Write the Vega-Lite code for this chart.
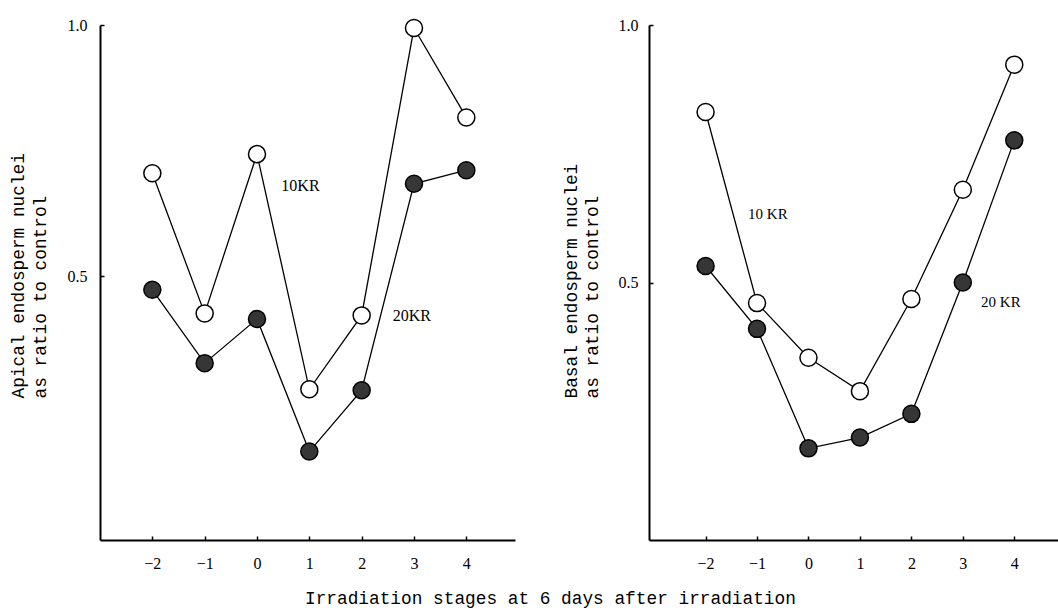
{
  "$schema": "https://vega.github.io/schema/vega-lite/v6.json",
  "background": "white",
  "padding": {"left": 9, "top": 16, "right": 0, "bottom": 0},
  "spacing": 47,
  "config": {
    "view": {"stroke": null},
    "axis": {
      "grid": false,
      "domainColor": "black",
      "domainWidth": 2,
      "tickColor": "black",
      "tickWidth": 1.5,
      "labelFont": "Liberation Serif",
      "labelFontSize": 16,
      "labelColor": "black",
      "titleFont": "Liberation Mono",
      "titleFontSize": 17.8,
      "titleFontWeight": "normal",
      "titleColor": "black"
    }
  },
  "title": {
    "text": "Irradiation stages at 6 days after irradiation",
    "orient": "bottom",
    "anchor": "start",
    "dx": 296,
    "offset": 19,
    "font": "Liberation Mono",
    "fontSize": 17.8,
    "fontWeight": "normal",
    "color": "black"
  },
  "datasets": {
    "apical": [
      {"stage": -2, "dose": "10 KR", "value": 0.705},
      {"stage": -1, "dose": "10 KR", "value": 0.426},
      {"stage": 0, "dose": "10 KR", "value": 0.743},
      {"stage": 1, "dose": "10 KR", "value": 0.275},
      {"stage": 2, "dose": "10 KR", "value": 0.422},
      {"stage": 3, "dose": "10 KR", "value": 0.994},
      {"stage": 4, "dose": "10 KR", "value": 0.816},
      {"stage": -2, "dose": "20 KR", "value": 0.473},
      {"stage": -1, "dose": "20 KR", "value": 0.327},
      {"stage": 0, "dose": "20 KR", "value": 0.415},
      {"stage": 1, "dose": "20 KR", "value": 0.151},
      {"stage": 2, "dose": "20 KR", "value": 0.273},
      {"stage": 3, "dose": "20 KR", "value": 0.684},
      {"stage": 4, "dose": "20 KR", "value": 0.711}
    ],
    "basal": [
      {"stage": -2, "dose": "10 KR", "value": 0.831},
      {"stage": -1, "dose": "10 KR", "value": 0.46},
      {"stage": 0, "dose": "10 KR", "value": 0.354},
      {"stage": 1, "dose": "10 KR", "value": 0.289},
      {"stage": 2, "dose": "10 KR", "value": 0.468},
      {"stage": 3, "dose": "10 KR", "value": 0.68},
      {"stage": 4, "dose": "10 KR", "value": 0.923},
      {"stage": -2, "dose": "20 KR", "value": 0.532},
      {"stage": -1, "dose": "20 KR", "value": 0.41},
      {"stage": 0, "dose": "20 KR", "value": 0.178},
      {"stage": 1, "dose": "20 KR", "value": 0.199},
      {"stage": 2, "dose": "20 KR", "value": 0.245},
      {"stage": 3, "dose": "20 KR", "value": 0.5},
      {"stage": 4, "dose": "20 KR", "value": 0.776}
    ],
    "apicalLabels": [
      {"stage": 0.83, "value": 0.68, "label": "10KR"},
      {"stage": 2.96, "value": 0.421, "label": "20KR"}
    ],
    "basalLabels": [
      {"stage": -0.79, "value": 0.633, "label": "10 KR"},
      {"stage": 3.74, "value": 0.462, "label": "20 KR"}
    ]
  },
  "hconcat": [
    {
      "width": 415,
      "height": 515,
      "layer": [
        {
          "data": {"name": "apical"},
          "mark": {"type": "line", "color": "black", "strokeWidth": 1.3},
          "encoding": {
            "x": {
              "field": "stage", "type": "quantitative",
              "scale": {"domain": [-3, 4.93], "nice": false, "zero": false},
              "axis": {"values": [-2, -1, 0, 1, 2, 3, 4], "format": "d", "title": null, "tickSize": -4, "labelPadding": 19}
            },
            "y": {
              "field": "value", "type": "quantitative",
              "scale": {"domain": [-0.025, 1.0], "nice": false, "zero": false},
              "axis": {
                "values": [0.5, 1.0], "format": ".1f", "tickSize": -4, "labelPadding": 17,
                "title": ["Apical endosperm nuclei", "as ratio to control"],
                "titleAngle": -90, "titleAlign": "left", "titleBaseline": "top",
                "titleX": -91, "titleY": 373, "titleLineHeight": 22
              }
            },
            "detail": {"field": "dose"}
          }
        },
        {
          "data": {"name": "apical"},
          "mark": {"type": "point", "shape": "circle", "filled": true, "size": 290, "stroke": "black", "strokeWidth": 1.5, "opacity": 1},
          "encoding": {
            "x": {"field": "stage", "type": "quantitative"},
            "y": {"field": "value", "type": "quantitative"},
            "fill": {"field": "dose", "type": "nominal", "scale": {"domain": ["10 KR", "20 KR"], "range": ["white", "#363636"]}, "legend": null}
          }
        },
        {
          "data": {"name": "apicalLabels"},
          "mark": {"type": "text", "font": "Liberation Serif", "fontSize": 16, "align": "center", "baseline": "middle", "color": "black"},
          "encoding": {
            "x": {"field": "stage", "type": "quantitative"},
            "y": {"field": "value", "type": "quantitative"},
            "text": {"field": "label"}
          }
        }
      ]
    },
    {
      "width": 409,
      "height": 515,
      "layer": [
        {
          "data": {"name": "basal"},
          "mark": {"type": "line", "color": "black", "strokeWidth": 1.3},
          "encoding": {
            "x": {
              "field": "stage", "type": "quantitative",
              "scale": {"domain": [-3.1, 4.85], "nice": false, "zero": false},
              "axis": {"values": [-2, -1, 0, 1, 2, 3, 4], "format": "d", "title": null, "tickSize": -4, "labelPadding": 19}
            },
            "y": {
              "field": "value", "type": "quantitative",
              "scale": {"domain": [0, 1.0], "nice": false, "zero": false},
              "axis": {
                "values": [0.5, 1.0], "format": ".1f", "tickSize": -4, "labelPadding": 15,
                "title": ["Basal endosperm nuclei", "as ratio to control"],
                "titleAngle": -90, "titleAlign": "left", "titleBaseline": "top",
                "titleX": -87, "titleY": 373, "titleLineHeight": 21
              }
            },
            "detail": {"field": "dose"}
          }
        },
        {
          "data": {"name": "basal"},
          "mark": {"type": "point", "shape": "circle", "filled": true, "size": 290, "stroke": "black", "strokeWidth": 1.5, "opacity": 1},
          "encoding": {
            "x": {"field": "stage", "type": "quantitative"},
            "y": {"field": "value", "type": "quantitative"},
            "fill": {"field": "dose", "type": "nominal", "scale": {"domain": ["10 KR", "20 KR"], "range": ["white", "#363636"]}, "legend": null}
          }
        },
        {
          "data": {"name": "basalLabels"},
          "mark": {"type": "text", "font": "Liberation Serif", "fontSize": 15, "align": "center", "baseline": "middle", "color": "black"},
          "encoding": {
            "x": {"field": "stage", "type": "quantitative"},
            "y": {"field": "value", "type": "quantitative"},
            "text": {"field": "label"}
          }
        }
      ]
    }
  ]
}
